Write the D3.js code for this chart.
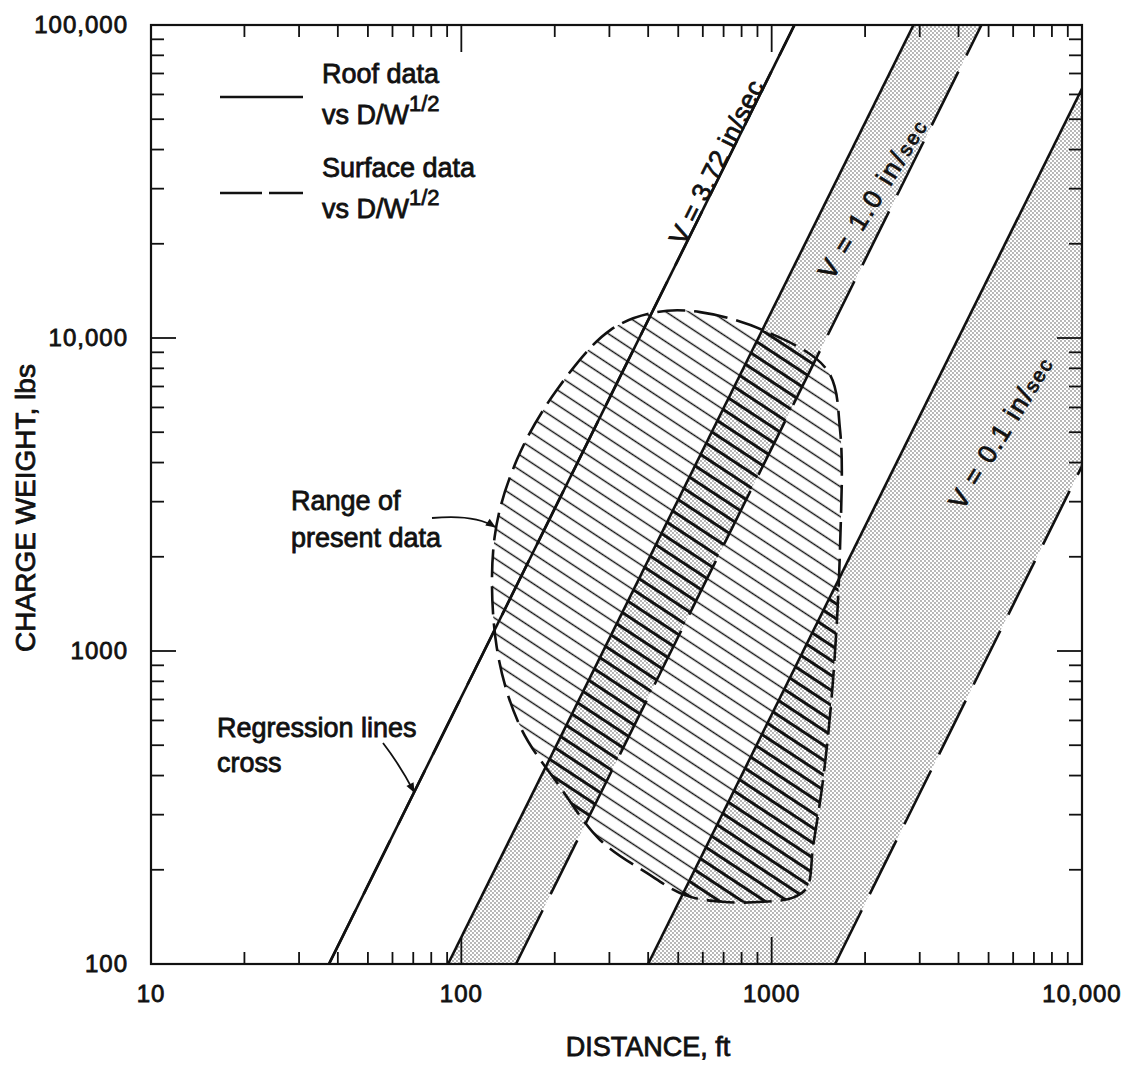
<!DOCTYPE html>
<html>
<head>
<meta charset="utf-8">
<script src="https://cdn.jsdelivr.net/npm/d3@7"></script>
<style>
  html, body { margin: 0; padding: 0; background: #fff; }
  svg { display: block; }
  text { font-family: "Liberation Sans", Arial, Helvetica, sans-serif; fill: #111; stroke: #111; stroke-width: 0.8; }
</style>
</head>
<body>
<svg id="chart" width="1130" height="1070"></svg>
<script>
// Peak particle velocity contours, charge weight vs. distance.
// Each contour is a line of constant scaled distance D/W^1/2 (ft/lb^1/2).
const velocities = [3.72, 1.0, 0.1];
const roofScaledDistance = [3.745, 9.06, 39.97];
const surfaceScaledDistance = [3.745, 15.0, 160.1];

const xTickValues = [10, 100, 1000, 10000];
const xTickLabels = ["10", "100", "1000", "10,000"];
const yTickValues = [100, 1000, 10000, 100000];
const yTickLabels = ["100", "1000", "10,000", "100,000"];

// Outline of the range of present data: distance (ft) and charge weight (lbs)
const rangeDistance = [427, 588, 938, 1509, 1661, 1661, 1577, 1464, 1359, 1301, 1172, 938, 697, 526, 397, 280, 208, 155, 130, 128, 151, 203, 302];
const rangeWeight   = [12100, 12100, 10600, 7900, 5080, 2150, 810, 387, 237, 176, 163, 158, 158, 166, 195, 249, 368, 572, 1030, 2310, 4080, 6820, 10600];

const svg = d3.select("#chart");
const plot = { left: 151, right: 1082, top: 25, bottom: 964 };
const x = d3.scaleLog().domain([10, 10000]).range([plot.left, plot.right]);
const y = d3.scaleLog().domain([100, 100000]).range([plot.bottom, plot.top]);
const line = d3.line().x(d => x(d[0])).y(d => y(d[1]));

// A constant scaled-distance line from W = 100 lb to W = 100,000 lb
const contour = sd => [[sd * Math.sqrt(100), 100], [sd * Math.sqrt(100000), 100000]];
const rangePts = rangeDistance.map((d, i) => [d, rangeWeight[i]]);
const rangePath = d3.line().x(d => x(d[0])).y(d => y(d[1])).curve(d3.curveCatmullRomClosed.alpha(0.5))(rangePts);

const defs = svg.append("defs");
defs.append("clipPath").attr("id", "plotClip").append("rect")
  .attr("x", plot.left).attr("y", plot.top)
  .attr("width", plot.right - plot.left).attr("height", plot.bottom - plot.top);

// stipple for the velocity bands
const dots = defs.append("pattern").attr("id", "dots")
  .attr("patternUnits", "userSpaceOnUse").attr("width", 4).attr("height", 4);
dots.append("circle").attr("cx", 1).attr("cy", 1).attr("r", 0.65).attr("fill", "#333");
dots.append("circle").attr("cx", 3).attr("cy", 3).attr("r", 0.65).attr("fill", "#333");

// diagonal hatching for the data range
const hatchGap = 12.5;
function hatch(id, width) {
  const p = defs.append("pattern").attr("id", id)
    .attr("patternUnits", "userSpaceOnUse")
    .attr("width", 40).attr("height", hatchGap)
    .attr("patternTransform", "rotate(33.4)");
  p.append("line").attr("x1", 0).attr("x2", 40)
    .attr("y1", hatchGap / 2).attr("y2", hatchGap / 2)
    .attr("stroke", "#111").attr("stroke-width", width);
}
hatch("hatchThin", 1.4);
hatch("hatchThick", 2.8);

// polygons between roof and surface contours (bands for 1.0 and 0.1 in/sec)
const bandIdx = [1, 2];
const bandPolys = bandIdx.map(i => contour(roofScaledDistance[i]).concat(contour(surfaceScaledDistance[i]).reverse()));
const bandClip = defs.append("clipPath").attr("id", "bandClip");
bandPolys.forEach(p => bandClip.append("path").attr("d", line(p) + "Z"));

const g = svg.append("g").attr("clip-path", "url(#plotClip)");

g.selectAll("path.band").data(bandPolys).join("path")
  .attr("class", "band").attr("d", d => line(d) + "Z").attr("fill", "url(#dots)");

g.append("path").attr("d", rangePath).attr("fill", "url(#hatchThin)");
g.append("g").attr("clip-path", "url(#bandClip)")
  .append("path").attr("d", rangePath).attr("fill", "url(#hatchThick)");

// roof contours (solid) and surface contours (dashed)
g.selectAll("path.roof").data(roofScaledDistance).join("path")
  .attr("class", "roof").attr("d", d => line(contour(d)))
  .attr("fill", "none").attr("stroke", "#111").attr("stroke-width", 2.6);
g.selectAll("path.surface").data(surfaceScaledDistance).join("path")
  .attr("class", "surface").attr("d", d => line(contour(d)))
  .attr("fill", "none").attr("stroke", "#111").attr("stroke-width", 2.6)
  .attr("stroke-dasharray", "60 18");

g.append("path").attr("d", rangePath).attr("fill", "none")
  .attr("stroke", "#111").attr("stroke-width", 2.6).attr("stroke-dasharray", "28 9");

// frame and inward ticks on all four sides
svg.append("rect").attr("x", plot.left).attr("y", plot.top)
  .attr("width", plot.right - plot.left).attr("height", plot.bottom - plot.top)
  .attr("fill", "none").attr("stroke", "#111").attr("stroke-width", 2.2);

const isDecade = v => Math.abs(Math.log10(v) - Math.round(Math.log10(v))) < 1e-9;
const ticks = svg.append("g").attr("stroke", "#111").attr("stroke-width", 1.8);
x.ticks().filter(v => v > 10 && v < 10000).forEach(v => {
  const len = isDecade(v) ? 27 : 12;
  ticks.append("line").attr("x1", x(v)).attr("x2", x(v)).attr("y1", plot.bottom).attr("y2", plot.bottom - len);
  ticks.append("line").attr("x1", x(v)).attr("x2", x(v)).attr("y1", plot.top).attr("y2", plot.top + len);
});
y.ticks().filter(v => v > 100 && v < 100000).forEach(v => {
  const len = isDecade(v) ? 25 : 13;
  ticks.append("line").attr("y1", y(v)).attr("y2", y(v)).attr("x1", plot.left).attr("x2", plot.left + len);
  ticks.append("line").attr("y1", y(v)).attr("y2", y(v)).attr("x1", plot.right).attr("x2", plot.right - len);
});

// tick labels
svg.selectAll("text.xt").data(xTickValues).join("text")
  .attr("class", "xt").attr("x", d => x(d)).attr("y", 1002)
  .attr("text-anchor", "middle").attr("font-size", 24).attr("letter-spacing", 1)
  .text((d, i) => xTickLabels[i]);
svg.selectAll("text.yt").data(yTickValues).join("text")
  .attr("class", "yt").attr("x", 128).attr("y", d => y(d) + 8)
  .attr("text-anchor", "end").attr("font-size", 24).attr("letter-spacing", 1)
  .text((d, i) => yTickLabels[i]);

// axis titles
svg.append("text").attr("x", 648).attr("y", 1056).attr("text-anchor", "middle")
  .attr("font-size", 27).text("DISTANCE, ft");
svg.append("text").attr("transform", "translate(35,508) rotate(-90)")
  .attr("text-anchor", "middle").attr("font-size", 28).text("CHARGE WEIGHT, lbs");

// legend
const legend = svg.append("g");
legend.append("line").attr("x1", 220).attr("x2", 303).attr("y1", 97).attr("y2", 97)
  .attr("stroke", "#111").attr("stroke-width", 2.6);
legend.append("line").attr("x1", 220).attr("x2", 303).attr("y1", 193).attr("y2", 193)
  .attr("stroke", "#111").attr("stroke-width", 2.6).attr("stroke-dasharray", "42 7");
function legendText(label, y0) {
  legend.append("text").attr("x", 322).attr("y", y0).attr("font-size", 27).text(label);
  const t = legend.append("text").attr("x", 322).attr("y", y0 + 41).attr("font-size", 27);
  t.append("tspan").text("vs D/W");
  t.append("tspan").attr("font-size", 22).attr("dy", -13).text("1/2");
}
legendText("Roof data", 83);
legendText("Surface data", 177);

// contour labels, placed along each roof line
const labelSpec = [
  { i: 0, w: 36500, dx: -10, angle: -63.4, spacing: 0.5, main: "V = 3.72 in/sec", small: "" },
  { i: 1, w: 28000, dx: 45, angle: -58.3, spacing: 2.5, main: "V = 1.0 in/", small: "sec" },
  { i: 2, w: 5000, dx: 89, angle: -58.4, spacing: 1.8, main: "V = 0.1 in/", small: "sec" }
];
labelSpec.forEach(s => {
  const px = x(roofScaledDistance[s.i] * Math.sqrt(s.w)) + s.dx;
  const py = y(s.w);
  const t = svg.append("text").attr("transform", `translate(${px},${py}) rotate(${s.angle})`)
    .attr("text-anchor", "middle").attr("dy", "0.35em").attr("font-size", 26).attr("letter-spacing", s.spacing);
  t.append("tspan").text(s.main);
  if (s.small) t.append("tspan").attr("font-size", 20).text(s.small);
});

// annotations with arrows
defs.append("marker").attr("id", "arrow").attr("viewBox", "0 0 10 10")
  .attr("refX", 9).attr("refY", 5).attr("markerWidth", 14).attr("markerHeight", 10)
  .attr("markerUnits", "userSpaceOnUse").attr("orient", "auto")
  .append("path").attr("d", "M0,1 L10,5 L0,9 Z").attr("fill", "#111");

const rangeTip = [x(128.4), y(2489)];
svg.append("path").attr("d", `M432,518 Q475,514 ${rangeTip[0]},${rangeTip[1]}`)
  .attr("fill", "none").attr("stroke", "#111").attr("stroke-width", 1.8).attr("marker-end", "url(#arrow)");
svg.append("text").attr("x", 291).attr("y", 510).attr("font-size", 27).text("Range of");
svg.append("text").attr("x", 291).attr("y", 547).attr("font-size", 27).text("present data");

const crossW = 354;
const crossTip = [x(roofScaledDistance[0] * Math.sqrt(crossW)), y(crossW)];
svg.append("path").attr("d", `M383,743 Q400,765 ${crossTip[0]},${crossTip[1]}`)
  .attr("fill", "none").attr("stroke", "#111").attr("stroke-width", 1.8).attr("marker-end", "url(#arrow)");
svg.append("text").attr("x", 217).attr("y", 737).attr("font-size", 27).text("Regression lines");
svg.append("text").attr("x", 217).attr("y", 772).attr("font-size", 27).text("cross");
</script>
</body>
</html>
